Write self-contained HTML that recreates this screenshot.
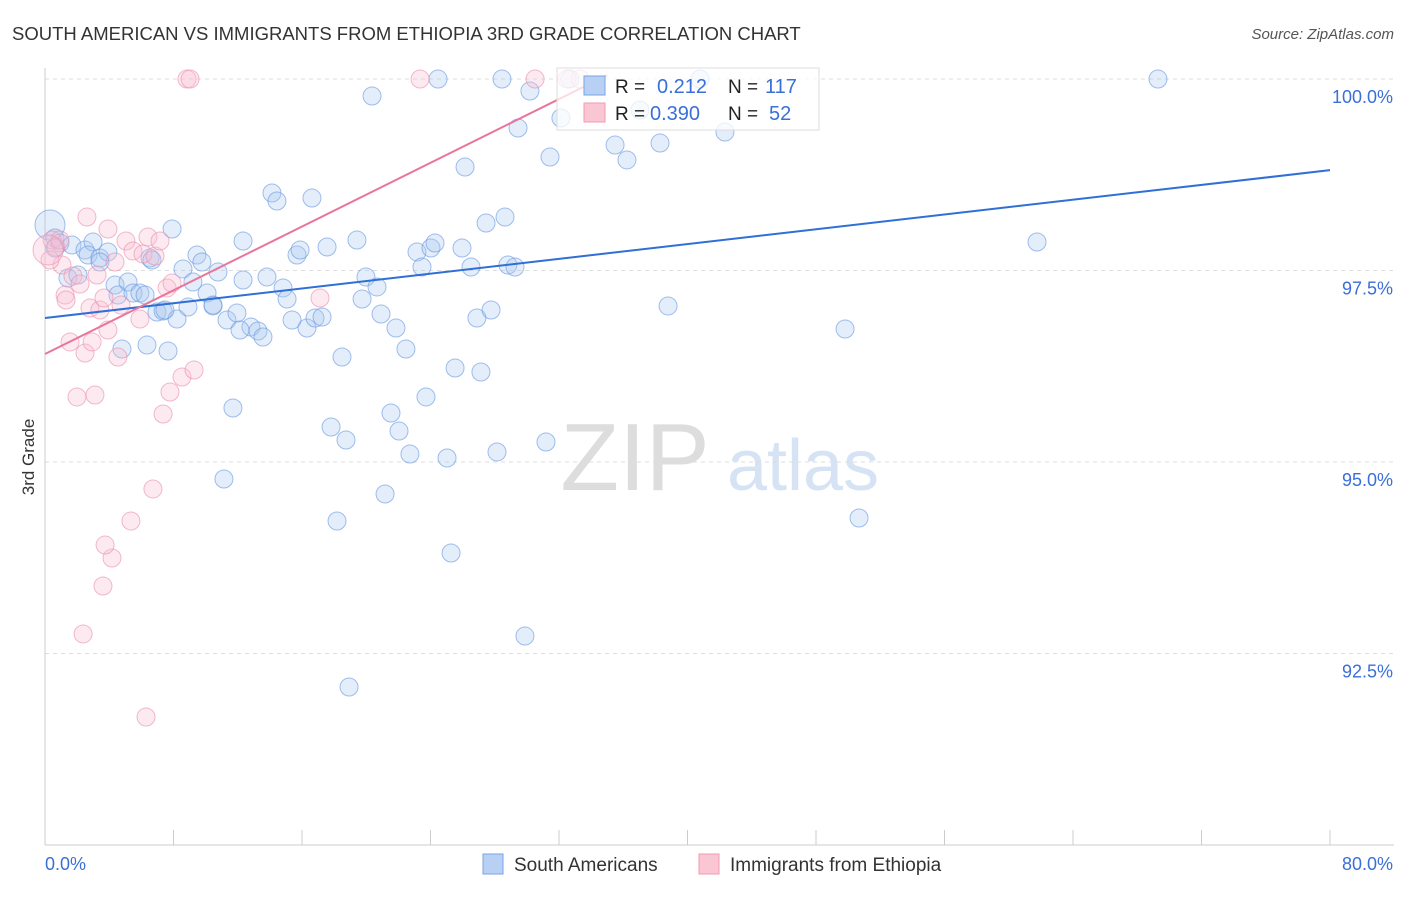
<!DOCTYPE html>
<html><head><meta charset="utf-8"><style>
body{margin:0;background:#fff;font-family:"Liberation Sans",sans-serif;}
svg text{font-family:"Liberation Sans",sans-serif;}
</style></head><body>
<svg id="chart" width="1406" height="892" viewBox="0 0 1406 892">
<text x="12" y="40" font-size="18.5" fill="#333">SOUTH AMERICAN VS IMMIGRANTS FROM ETHIOPIA 3RD GRADE CORRELATION CHART</text>
<text x="1394" y="39" font-size="15" fill="#555" font-style="italic" text-anchor="end">Source: ZipAtlas.com</text>
<g>
<text x="635" y="490" font-size="96" fill="#ddd" font-family="Liberation Serif" text-anchor="middle">ZIP</text>
<text x="803" y="490" font-size="72" fill="#d6e3f5" text-anchor="middle">atlas</text>
</g>
<g id="grid"></g>
<g id="axes"></g>
<g id="pts"></g>
<g id="lines"></g>
<text transform="translate(34,457) rotate(-90)" font-size="17" fill="#333" text-anchor="middle">3rd Grade</text>
<text x="45" y="870" font-size="18" fill="#3a6fd8">0.0%</text>
<text x="1393" y="870" font-size="18" fill="#3a6fd8" text-anchor="end">80.0%</text>
<g>
<rect x="557" y="68" width="262" height="62" fill="rgba(255,255,255,0.75)" stroke="#ddd"/>
<rect x="584" y="76" width="21" height="19" fill="#b7d0f3" stroke="#7aa3e4"/>
<rect x="584" y="103" width="21" height="19" fill="#fbc6d4" stroke="#f19ab3"/>
<text x="615" y="93" font-size="19" fill="#222">R = </text><text x="657" y="93" font-size="20" fill="#3a6fd8">0.212</text>
<text x="728" y="93" font-size="19" fill="#222">N = </text><text x="765" y="93" font-size="20" fill="#3a6fd8">117</text>
<text x="615" y="120" font-size="19" fill="#222">R = </text><text x="650" y="120" font-size="20" fill="#3a6fd8">0.390</text>
<text x="728" y="120" font-size="19" fill="#222">N = </text><text x="769" y="120" font-size="20" fill="#3a6fd8">52</text>
</g>
<g>
<rect x="483" y="854" width="20" height="20" fill="#b7d0f3" stroke="#7aa3e4"/>
<text x="514" y="871" font-size="19" fill="#333">South Americans</text>
<rect x="699" y="854" width="20" height="20" fill="#fbc6d4" stroke="#f19ab3"/>
<text x="730" y="871" font-size="19" fill="#333">Immigrants from Ethiopia</text>
</g>
</svg>
<script>
const yTicks=[100,97.5,95,92.5];
const yTickLabels=["100.0%","97.5%","95.0%","92.5%"];
const xTicks=[0,8,16,24,32,40,48,56,64,72,80];
const bluePx=[[50,225],[55,238],[60,243],[72,245],[68,278],[78,275],[85,250],[93,242],[88,255],[100,258],[108,252],[115,285],[118,295],[128,282],[133,293],[140,293],[145,295],[150,258],[152,260],[157,312],[163,311],[172,229],[177,319],[183,269],[188,307],[193,282],[197,255],[202,262],[207,293],[213,306],[218,272],[227,320],[233,408],[224,479],[237,313],[243,241],[243,280],[251,327],[258,331],[263,337],[267,277],[272,193],[277,201],[283,288],[287,299],[292,320],[297,255],[300,250],[307,328],[312,198],[315,318],[322,317],[327,247],[331,427],[337,521],[342,357],[346,440],[357,240],[362,299],[366,277],[372,96],[377,287],[381,314],[385,494],[391,413],[396,328],[399,431],[406,349],[410,454],[417,252],[422,267],[426,397],[431,248],[435,243],[438,79],[447,458],[451,553],[455,368],[462,248],[465,167],[471,267],[477,318],[481,372],[486,223],[491,310],[497,452],[502,79],[505,217],[508,265],[515,267],[518,128],[525,636],[530,91],[546,442],[550,157],[561,118],[570,79],[615,145],[627,160],[640,110],[660,143],[668,306],[700,79],[725,132],[845,329],[859,518],[1037,242],[1158,79],[349,687],[122,349],[147,345],[168,351],[55,248],[100,262],[165,310],[213,305],[240,330]];
const pinkPx=[[52,240],[56,247],[62,265],[65,295],[70,342],[73,276],[77,397],[80,284],[85,353],[87,217],[90,308],[92,342],[95,395],[97,275],[100,310],[104,298],[108,229],[108,330],[115,262],[118,357],[121,305],[126,241],[131,521],[133,251],[140,319],[143,254],[146,717],[148,237],[153,489],[155,256],[160,241],[163,414],[167,288],[170,392],[172,283],[182,377],[187,79],[190,79],[194,370],[112,558],[103,586],[83,634],[320,298],[420,79],[535,79],[567,79],[580,79],[60,240],[50,260],[66,300],[105,545],[48,250]];
const toX=p=>(p-45)/16.0625, toY=p=>100-(p-79)/76.6;
const blueX=bluePx.map(p=>+toX(p[0]).toFixed(2)), blueY=bluePx.map(p=>+toY(p[1]).toFixed(3));
const pinkX=pinkPx.map(p=>+toX(p[0]).toFixed(2)), pinkY=pinkPx.map(p=>+toY(p[1]).toFixed(3));
const blueTrend=[[0,96.88],[80,98.81]];
const pinkTrend=[[0,96.41],[35,100.05]];
const X=v=>45+v*16.0625, Y=v=>79+(100-v)*76.6;
const NS="http://www.w3.org/2000/svg";
function mk(t,a,parent){const e=document.createElementNS(NS,t);for(const k in a)e.setAttribute(k,a[k]);document.getElementById(parent).appendChild(e);return e;}
yTicks.forEach((v,i)=>{
 const l=mk('line',{x1:45,x2:1394,y1:Y(v),y2:Y(v),stroke:'#ddd','stroke-dasharray':'4,4'},'grid');
 
 
 const t=mk('text',{x:1393,y:Y(v)+24,'font-size':18,fill:'#3a6fd8','text-anchor':'end'},'grid');
 t.textContent=yTickLabels[i];
 
 
});
const ax=mk('line',{x1:45,x2:45,y1:68,y2:845,stroke:'#ccc'},'axes');


const bx=mk('line',{x1:45,x2:1394,y1:845,y2:845,stroke:'#ccc'},'axes');


xTicks.forEach(v=>{
 const t=mk('line',{x1:X(v),x2:X(v),y1:830,y2:845,stroke:'#ccc'},'axes');
 
 
});
blueX.forEach((x,i)=>{
 const r=i===0?15:9;
 const c=mk('circle',{cx:X(x),cy:Y(blueY[i]),r:r,fill:'rgba(170,200,240,0.32)',stroke:'rgba(100,150,225,0.6)','stroke-width':1},'pts');
 
 
});
pinkX.forEach((x,i)=>{
 const r=i===pinkX.length-1?15:9;
 const c=mk('circle',{cx:X(x),cy:Y(pinkY[i]),r:r,fill:'rgba(250,190,210,0.32)',stroke:'rgba(235,140,170,0.6)','stroke-width':1},'pts');
 
 
});
const bl=mk('line',{x1:X(blueTrend[0][0]),y1:Y(blueTrend[0][1]),x2:X(blueTrend[1][0]),y2:Y(blueTrend[1][1]),stroke:'#2f6fd6','stroke-width':2},'lines');


const pl=mk('line',{x1:X(pinkTrend[0][0]),y1:Y(pinkTrend[0][1]),x2:X(pinkTrend[1][0]),y2:Y(pinkTrend[1][1]),stroke:'#e8769c','stroke-width':2},'lines');


</script>
</body></html>
